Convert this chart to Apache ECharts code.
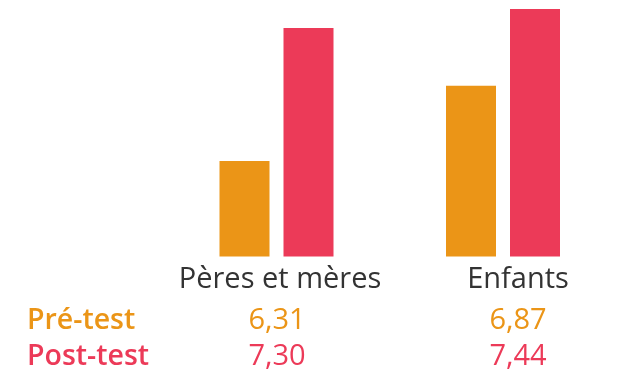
<!DOCTYPE html>
<html>
<head>
<meta charset="utf-8">
<script src="https://cdn.jsdelivr.net/npm/echarts@6/dist/echarts.min.js"></script>
<style>
  html, body { margin: 0; padding: 0; background: #fff; }
  #chart { width: 630px; height: 374px; }
</style>
</head>
<body>
<div id="chart"></div>
<script>
// Groups and scores
const categories = ['Pères et mères', 'Enfants'];
const seriesNames = ['Pré-test', 'Post-test'];
const preTest = [6.31, 6.87];
const postTest = [7.30, 7.44];

const ORANGE = '#EB9517';
const RED = '#EC3A58';
const FONT = '"Open Sans", "Noto Sans", sans-serif';

const fmt = v => v.toFixed(2).replace('.', ',');

const chart = echarts.init(document.getElementById('chart'), null, { renderer: 'canvas' });

const option = {
  animation: false,
  grid: { left: 163.25, right: 13.75, top: 1, bottom: 117.5, containLabel: false },
  xAxis: {
    type: 'category',
    data: categories,
    axisLine: { show: false },
    axisTick: { show: false },
    axisLabel: { show: false }
  },
  yAxis: {
    type: 'value',
    min: 5.6,
    max: 7.5,
    show: false,
    splitLine: { show: false }
  },
  series: [
    { name: seriesNames[0], type: 'bar', data: preTest, barWidth: 50, barGap: '28%', itemStyle: { color: ORANGE } },
    { name: seriesNames[1], type: 'bar', data: postTest, barWidth: 50, itemStyle: { color: RED } }
  ]
};
chart.setOption(option);

// Table beneath the bars: group names, then one row per test
const colX = [280, 518];
const rowColors = [ORANGE, RED];
const rowValues = [preTest, postTest];
const graphics = [];
categories.forEach((c, i) => {
  graphics.push({
    type: 'text', x: colX[i], y: 280,
    style: { text: c, font: '400 29px ' + FONT, fill: '#333333', align: 'center', verticalAlign: 'middle' }
  });
});
rowValues.forEach((vals, r) => {
  const y = 321 + r * 36;
  graphics.push({
    type: 'text', x: 27, y: y,
    style: { text: seriesNames[r], font: '600 28.5px ' + FONT, fill: rowColors[r], align: 'left', verticalAlign: 'middle' }
  });
  vals.forEach((v, i) => {
    graphics.push({
      type: 'text', x: colX[i] + (i === 0 ? -3 : 0), y: y,
      style: { text: fmt(v), font: '400 29px ' + FONT, fill: rowColors[r], align: 'center', verticalAlign: 'middle' }
    });
  });
});
chart.setOption({ graphic: graphics });
</script>
</body>
</html>
